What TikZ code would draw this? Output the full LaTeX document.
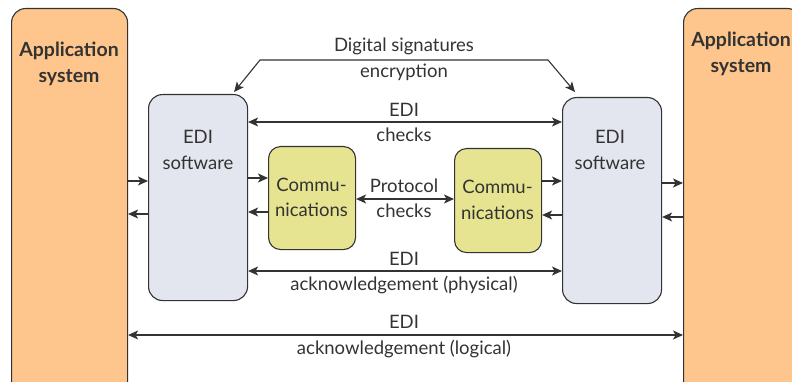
\documentclass[tikz,border=0pt]{standalone}
\usepackage{fontspec}
\setmainfont{Lato}
\usetikzlibrary{arrows.meta,calc}
\definecolor{appfill}{HTML}{FEC68C}
\definecolor{edifill}{HTML}{E3E5EF}
\definecolor{comfill}{HTML}{E6E490}
\definecolor{ink}{HTML}{333333}
\tikzset{
  box/.style={draw=ink, line width=1.1pt, rounded corners=14pt, inner sep=0pt},
  appbox/.style={box, fill=appfill},
  edibox/.style={box, fill=edifill},
  combox/.style={box, fill=comfill, rounded corners=12pt},
  lbl/.style={text=ink, font=\fontsize{18.5}{20}\selectfont, inner sep=0pt},
  boxlbl/.style={lbl, align=center, font=\fontsize{18.5}{25.5}\selectfont},
  applbl/.style={lbl, align=center, font=\fontsize{19.5}{26}\selectfont\bfseries},
  arr/.style={draw=ink, line width=1.1pt, -{Stealth[length=10pt,width=9pt,inset=2.5pt]}},
  darr/.style={arr, {Stealth[length=10pt,width=9pt,inset=2.5pt]}-{Stealth[length=10pt,width=9pt,inset=2.5pt]}}
}
\begin{document}
\begin{tikzpicture}[x=1pt,y=-1pt]
\useasboundingbox (0,0) rectangle (792,382);
\clip (0,0) rectangle (792,382);

% application systems (running past the bottom and right edges)
\node[appbox, minimum width=116pt, minimum height=390pt, anchor=north west] (appL) at (11,8) {};
\node[appbox, minimum width=118pt, minimum height=390pt, anchor=north west] (appR) at (683,8) {};
\node[applbl] (appLt) at (69,63.5) {Application\\system};
\node[applbl] (appRt) at (741,53.5) {Application\\system};

% EDI software
\node[edibox, minimum width=99pt, minimum height=206pt, anchor=north west] (ediL) at (148,94) {};
\node[edibox, minimum width=99pt, minimum height=206pt, anchor=north west] (ediR) at (562,97) {};
\node[boxlbl] (ediLt) at (198,150) {EDI\\software};
\node[boxlbl] (ediRt) at (610,150) {EDI\\software};

% communications
\node[combox, minimum width=87pt, minimum height=103pt, anchor=north west] (comL) at (268,146) {};
\node[combox, minimum width=87pt, minimum height=104pt, anchor=north west] (comR) at (454,148) {};
\node[boxlbl] (comLt) at (311.5,197.5) {Commu-\\nications};
\node[boxlbl] (comRt) at (497.5,200) {Commu-\\nications};

% digital signatures / encryption
\coordinate (dsL) at (260,60);
\coordinate (dsR) at (548,60);
\draw[darr] ($(ediL.north east)+(-14,-2)$) -- (dsL) -- (dsR) -- ($(ediR.north west)+(13,-5)$);
\node[lbl] (dsT1) at (404,46) {Digital signatures};
\node[lbl] (dsT2) at (404,72) {encryption};

% EDI checks
\draw[darr] (ediL.east |- 0,122) -- (ediR.west |- 0,122);
\node[lbl] (ckT1) at (404,110) {EDI};
\node[lbl] (ckT2) at (404,135) {checks};

% protocol checks
\draw[darr] (comL.east |- 0,199) -- (comR.west |- 0,199);
\node[lbl] (prT1) at (404,186) {Protocol};
\node[lbl] (prT2) at (404,211) {checks};

% physical acknowledgement
\draw[darr] (ediL.east |- 0,271) -- (ediR.west |- 0,271);
\node[lbl] (phT1) at (404,259) {EDI};
\node[lbl] (phT2) at (404,285) {acknowledgement (physical)};

% logical acknowledgement
\draw[darr] (appL.east |- 0,335) -- (appR.west |- 0,335);
\node[lbl] (lgT1) at (404,322) {EDI};
\node[lbl] (lgT2) at (404,349) {acknowledgement (logical)};

% local exchanges, left side
\draw[arr] (appL.east |- 0,181) -- (ediL.west |- 0,181);
\draw[arr] (ediL.west |- 0,214) -- (appL.east |- 0,214);
\draw[arr] (ediL.east |- 0,178) -- (comL.west |- 0,178);
\draw[arr] (comL.west |- 0,212) -- (ediL.east |- 0,212);

% local exchanges, right side
\draw[arr] (comR.east |- 0,181) -- (ediR.west |- 0,181);
\draw[arr] (ediR.west |- 0,215) -- (comR.east |- 0,215);
\draw[arr] (ediR.east |- 0,183) -- (appR.west |- 0,183);
\draw[arr] (appR.west |- 0,217) -- (ediR.east |- 0,217);
\end{tikzpicture}
\end{document}
